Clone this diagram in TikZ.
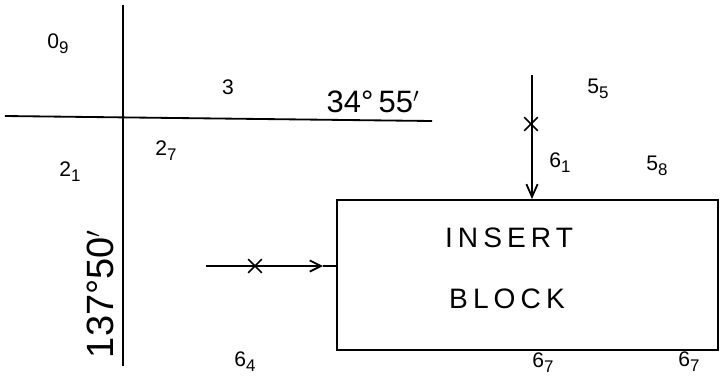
\documentclass[tikz,border=0pt]{standalone}
\usepackage{fontspec}
\setmainfont{Liberation Sans}
\usetikzlibrary{arrows.meta, positioning, shapes.misc}

\newcommand{\sheetno}[2]{#1\raisebox{-3.5pt}{\fontsize{12}{14}\selectfont #2}}

\tikzset{
  lbl/.style={font=\fontsize{15}{17}\selectfont, inner sep=0pt},
  angle/.style={font=\fontsize{22}{24}\selectfont, inner sep=0pt},
  word/.style={font=\fontsize{20}{22}\selectfont\addfontfeatures{LetterSpace=18}, inner sep=0pt},
  fix/.style={draw, cross out, minimum size=0.3cm, inner sep=0pt, line width=1.2pt},
}

\begin{document}
\begin{tikzpicture}[x=0.025cm, y=-0.025cm, line width=1.3pt]
  \useasboundingbox (0,0) rectangle (720,378);

  % grid lines
  \coordinate (ntop) at (123,5);
  \coordinate (nbot) at (123,366);
  \coordinate (wend) at (5,116);
  \coordinate (eend) at (432,121);
  \draw (ntop) -- (nbot);
  \draw (wend) -- (eend);

  % grid values
  \node[angle] (lat) at (373,102) {34°\,55$'$};
  \node[angle, font=\fontsize{27}{29}\selectfont, rotate=90] (lon) at (100,294) {137°50$'$};

  % insert block
  \node[draw, minimum width=9.525cm, minimum height=3.75cm] (block) at (527.5,275) {};
  \node[word] (ins) at (509,238) {INSERT};
  \node[word] (blk) at (507,299) {BLOCK};

  % arrow from the top
  \coordinate (vstart) at (532,75);
  \node[fix] (vx) at (531,124) {};
  \draw[-{Straight Barb[length=9pt, width=8pt]}] (vstart) -- (vstart |- block.north);

  % arrow from the left
  \coordinate (hstart) at (206,266);
  \coordinate (htip) at (323,266);
  \node[fix] (hx) at (255,266) {};
  \draw[-{Straight Barb[length=8pt, width=8pt]}] (hstart) -- (htip);
  \draw (htip) -- (hstart -| block.west);

  % sheet numbers
  \node[lbl] (a) at (58,44) {\sheetno{0}{9}};
  \node[lbl] (b) at (228,87) {3};
  \node[lbl] (c) at (70,172) {\sheetno{2}{1}};
  \node[lbl] (d) at (166,151) {\sheetno{2}{7}};
  \node[lbl] (e) at (598,89) {\sheetno{5}{5}};
  \node[lbl] (f) at (560,163) {\sheetno{6}{1}};
  \node[lbl] (g) at (657,166) {\sheetno{5}{8}};
  \node[lbl] (h) at (245,362) {\sheetno{6}{4}};
  \node[lbl] (i) at (543,363) {\sheetno{6}{7}};
  \node[lbl] (j) at (689,362) {\sheetno{6}{7}};
\end{tikzpicture}
\end{document}
